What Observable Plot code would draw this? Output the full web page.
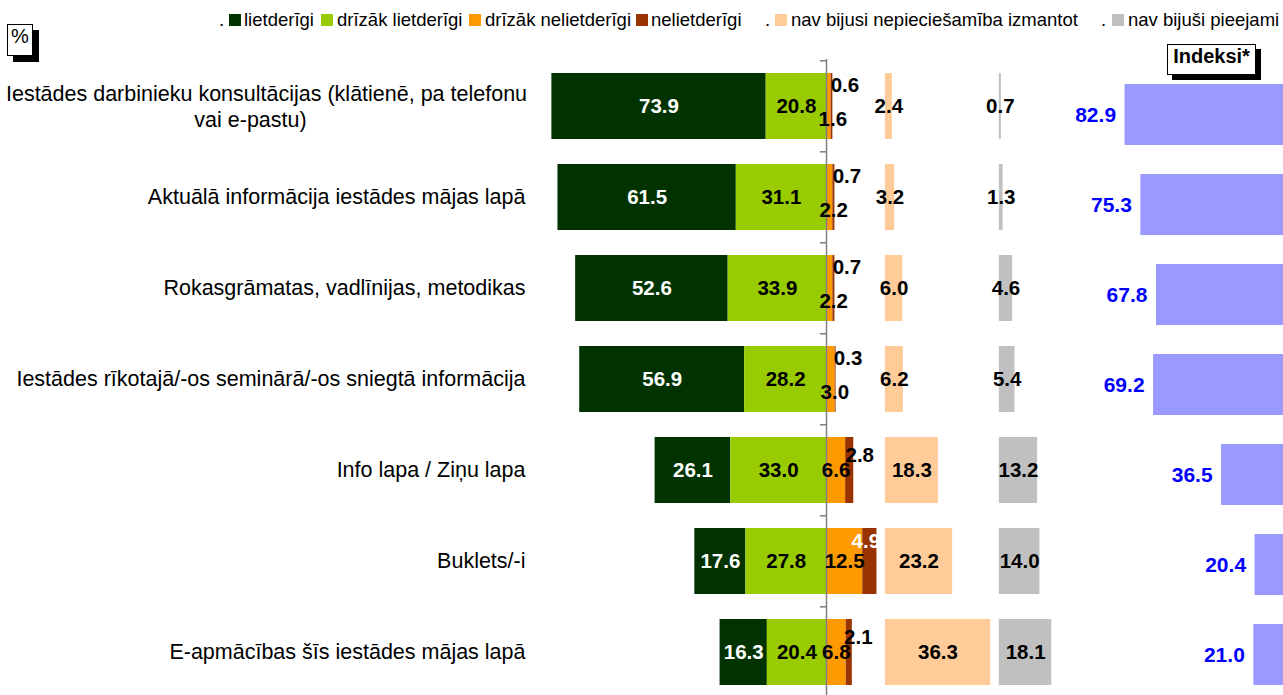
<!DOCTYPE html>
<html>
<head>
<meta charset="utf-8">
<script src="https://cdn.jsdelivr.net/npm/d3@7"></script>
<script src="https://cdn.jsdelivr.net/npm/@observablehq/plot@0.6"></script>
<style>
  body { margin: 0; background: #fff; font-family: Arial, "Liberation Sans", sans-serif; }
  #wrap { position: relative; width: 1283px; height: 695px; overflow: hidden; background: #fff; }
  #wrap svg { position: absolute; left: 0; top: 0; }
  .lg { position: absolute; top: 11px; font-size: 18.5px; line-height: 18px; white-space: nowrap; color: #000; }
  .sq { position: absolute; top: 14px; width: 12px; height: 12px; }
  .box { position: absolute; background: #fff; border: 1px solid #000; box-sizing: border-box; text-align: center; color: #000; }
</style>
</head>
<body>
<div id="wrap"></div>
<script>
// ---------- data ----------
const categories = [
  "Iestādes darbinieku konsultācijas (klātienē, pa telefonu vai e-pastu)",
  "Aktuālā informācija iestādes mājas lapā",
  "Rokasgrāmatas, vadlīnijas, metodikas",
  "Iestādes rīkotajā/-os seminārā/-os sniegtā informācija",
  "Info lapa / Ziņu lapa",
  "Buklets/-i",
  "E-apmācības šīs iestādes mājas lapā"
];
const labelLine1 = "Iestādes darbinieku konsultācijas (klātienē, pa telefonu";
const labelLine2 = "vai e-pastu)";
const lietderigi        = [73.9, 61.5, 52.6, 56.9, 26.1, 17.6, 16.3];
const drizakLietderigi  = [20.8, 31.1, 33.9, 28.2, 33.0, 27.8, 20.4];
const drizakNelietderigi= [1.6, 2.2, 2.2, 3.0, 6.6, 12.5, 6.8];
const nelietderigi      = [0.6, 0.7, 0.7, 0.3, 2.8, 4.9, 2.1];
const navNepieciesamiba = [2.4, 3.2, 6.0, 6.2, 18.3, 23.2, 36.3];
const navPieejami       = [0.7, 1.3, 4.6, 5.4, 13.2, 14.0, 18.1];
const indeksi           = [82.9, 75.3, 67.8, 69.2, 36.5, 20.4, 21.0];
const seriesNames = ["lietderīgi", "drīzāk lietderīgi", "drīzāk nelietderīgi", "nelietderīgi",
                     "nav bijusi nepieciešamība izmantot", "nav bijuši pieejami"];
const seriesColors = ["#003300", "#99CC00", "#FF9900", "#993300", "#FFCC99", "#C0C0C0"];
const indexTitle = "Indeksi*";
const unitTitle = "%";

// ---------- layout ----------
const W = 1283, H = 695;
const NEED_START = 20.3, AVAIL_START = 59.6;  // column offsets (x units)
const fmt = d3.format(".1f");

const segs = [];
categories.forEach((c, i) => {
  const a = lietderigi[i], b = drizakLietderigi[i], o = drizakNelietderigi[i],
        n = nelietderigi[i], p = navNepieciesamiba[i], g = navPieejami[i];
  segs.push({cat: c, s: 0, v: a, x1: -(a + b), x2: -b});
  segs.push({cat: c, s: 1, v: b, x1: -b, x2: 0});
  segs.push({cat: c, s: 2, v: o, x1: 0, x2: o});
  segs.push({cat: c, s: 3, v: n, x1: o, x2: o + n});
  segs.push({cat: c, s: 4, v: p, x1: NEED_START, x2: NEED_START + p});
  segs.push({cat: c, s: 5, v: g, x1: AVAIL_START, x2: AVAIL_START + g});
});
segs.forEach(d => { d.mid = (d.x1 + d.x2) / 2; d.name = seriesNames[d.s]; d.label = fmt(d.v); });

const bold = {fontWeight: "bold", fontSize: 20.5, fontFamily: "Arial, 'Liberation Sans', sans-serif"};
const catFont = 21.5;
const labelX = (525 - 826) / 2.9;
const line1X = (266 - 826) / 2.9;

const main = Plot.plot({
  width: W, height: H,
  marginTop: 0, marginBottom: 0, marginLeft: 0, marginRight: 0,
  style: {background: "transparent", fontFamily: "Arial, 'Liberation Sans', sans-serif"},
  x: {domain: [-100, 100], range: [826 - 290, 826 + 290], axis: null},
  y: {type: "band", domain: categories, range: [72, 686], paddingInner: 0.277, paddingOuter: 0, axis: null},
  color: {domain: seriesNames, range: seriesColors},
  marks: [
    Plot.barX(segs, {y: "cat", x1: "x1", x2: "x2", fill: "name"}),
    Plot.ruleX([0], {stroke: "#808080", strokeWidth: 1.5, insetTop: 59}),
    Plot.ruleY(categories, {y: d => d, x1: -2.1, x2: 0, dy: -45.7, stroke: "#808080", strokeWidth: 1.5}),
    // labels
    Plot.text(segs.filter(d => d.s === 0), {y: "cat", x: "mid", text: "label", fill: "white", ...bold}),
    Plot.text(segs.filter(d => d.s === 1 || d.s === 4 || d.s === 5), {y: "cat", x: "mid", text: "label", fill: "black", ...bold}),
    Plot.text(segs.filter(d => d.s === 2 && d.v >= 5), {y: "cat", x: "mid", text: "label", fill: "black", ...bold}),
    Plot.text(segs.filter(d => d.s === 2 && d.v < 5), {y: "cat", x: "mid", text: "label", fill: "black", dx: 4, dy: 13, ...bold}),
    Plot.text(segs.filter(d => d.s === 3 && d.v < 1), {y: "cat", x: "x2", text: "label", fill: "black", dx: 12, dy: -21, ...bold}),
    Plot.text(segs.filter(d => d.s === 3 && d.v >= 1 && d.v < 4), {y: "cat", x: "x2", text: "label", fill: "black", dx: 6, dy: -15, ...bold}),
    Plot.text(segs.filter(d => d.s === 3 && d.v >= 4), {y: "cat", x: "mid", text: "label", fill: "white", dx: -4, dy: -20, ...bold}),
    // category labels
    Plot.text(categories.slice(1), {y: d => d, x: labelX, text: d => d, textAnchor: "end", fontSize: catFont, fill: "black"}),
    Plot.text([categories[0]], {y: d => d, x: line1X, text: () => labelLine1, textAnchor: "middle", fontSize: catFont, dy: -12, fill: "black"}),
    Plot.text([categories[0]], {y: d => d, x: line1X, text: () => labelLine2, textAnchor: "middle", fontSize: catFont, dx: -16, dy: 14, fill: "black"})
  ]
});

const idxData = categories.map((c, i) => ({cat: c, v: indeksi[i], label: fmt(indeksi[i])}));
const idx = Plot.plot({
  width: W, height: H,
  marginTop: 0, marginBottom: 0, marginLeft: 0, marginRight: 0,
  style: {background: "transparent", fontFamily: "Arial, 'Liberation Sans', sans-serif"},
  x: {domain: [0, 100], range: [1297, 1297 - 208], axis: null},
  y: {type: "band", domain: categories, range: [82, 686], paddingInner: 0.326, paddingOuter: 0, axis: null},
  marks: [
    Plot.barX(idxData, {y: "cat", x1: 0, x2: "v", fill: "#9999FF"}),
    Plot.text(idxData, {y: "cat", x: "v", text: "label", textAnchor: "end", dx: -9, fill: "#0000FF", fontWeight: "bold", fontSize: 21})
  ]
});

const wrap = document.getElementById("wrap");
wrap.appendChild(main);
wrap.appendChild(idx);

// legend
const legendPos = [
  {dot: 219, sq: 229, tx: 244},
  {sq: 321, tx: 337},
  {sq: 469, tx: 485},
  {sq: 636, tx: 651},
  {dot: 765, sq: 775, tx: 791},
  {dot: 1101, sq: 1112, tx: 1128}
];
seriesNames.forEach((name, i) => {
  const p = legendPos[i];
  if (p.dot !== undefined) {
    const d = document.createElement("div");
    d.className = "lg"; d.style.left = p.dot + "px"; d.textContent = ".";
    wrap.appendChild(d);
  }
  const s = document.createElement("div");
  s.className = "sq"; s.style.left = p.sq + "px"; s.style.background = seriesColors[i];
  wrap.appendChild(s);
  const t = document.createElement("div");
  t.className = "lg"; t.style.left = p.tx + "px"; t.textContent = name;
  wrap.appendChild(t);
});

// boxes
function box(text, left, top, w, h, shadow, font) {
  const b = document.createElement("div");
  b.className = "box";
  Object.assign(b.style, {left: left + "px", top: top + "px", width: w + "px", height: h + "px",
    lineHeight: (h - 2) + "px", boxShadow: `${shadow}px ${shadow}px 0 #000`, font});
  b.textContent = text;
  wrap.appendChild(b);
}
box(unitTitle, 7, 24, 26, 32, 6, "20px Arial, 'Liberation Sans', sans-serif");
box(indexTitle, 1167, 44, 89, 31, 5, "bold 20px Arial, 'Liberation Sans', sans-serif");
</script>
</body>
</html>
